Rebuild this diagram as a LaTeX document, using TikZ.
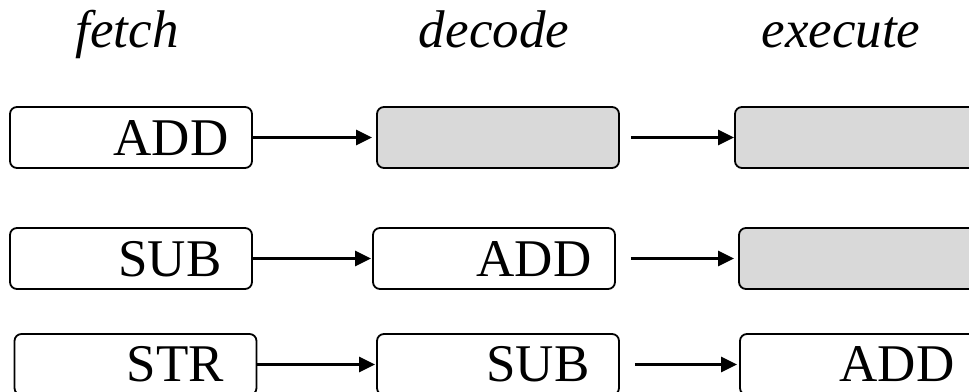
\documentclass[tikz,border=0pt]{standalone}
\usepackage{fontspec}
\setmainfont{Liberation Serif}
\usetikzlibrary{arrows.meta}
\definecolor{stagegray}{RGB}{217,217,217}
\tikzset{
  stagebox/.style={draw=black, line width=1.8pt, rounded corners=7pt,
    minimum width=242pt, minimum height=61pt, inner sep=0pt, fill=white},
  emptybox/.style={stagebox, fill=stagegray},
  instr/.style={anchor=base, inner sep=0pt, text depth=0pt,
    font=\fontsize{53}{60}\selectfont},
  stagetitle/.style={anchor=base, inner sep=0pt, font=\fontsize{53}{60}\selectfont\itshape},
  flow/.style={line width=2.6pt, -{Triangle[length=16pt,width=15pt]}},
}
\begin{document}
\begin{tikzpicture}[x=1pt, y=1pt]
  \useasboundingbox (0,0) rectangle (969,391);

  % stage headings
  \node[stagetitle] (tfetch) at (127,343) {fetch};
  \node[stagetitle] (tdecode) at (494,343) {decode};
  \node[stagetitle] (texecute) at (841,343) {execute};

  % first cycle
  \node[stagebox] (a1) at (131,253.5) {};
  \node[emptybox] (a2) at (498,253.5) {};
  \node[emptybox] (a3) at (856,253.5) {};
  \node[instr] (ta1) at ([xshift=40pt,yshift=-18pt]a1.center) {ADD};

  % second cycle
  \node[stagebox] (b1) at (131,132.5) {};
  \node[stagebox] (b2) at (494,132.5) {};
  \node[emptybox] (b3) at (860,132.5) {};
  \node[instr] (tb1) at ([xshift=39pt,yshift=-18pt]b1.center) {SUB};
  \node[instr] (tb2) at ([xshift=40pt,yshift=-18pt]b2.center) {ADD};

  % third cycle
  \node[stagebox] (c1) at (135.5,26.5) {};
  \node[stagebox] (c2) at (498,26.5) {};
  \node[stagebox] (c3) at (861,26.5) {};
  \node[instr] (tc1) at ([xshift=40pt,yshift=-17pt]c1.center) {STR};
  \node[instr] (tc2) at ([xshift=40pt,yshift=-17pt]c2.center) {SUB};
  \node[instr] (tc3) at ([xshift=36pt,yshift=-17pt]c3.center) {ADD};

  % pipeline transfers
  \draw[flow, shorten >=4pt] (a1.east) -- (a2.west);
  \draw[flow, shorten <=11pt] (a2.east) -- (a3.west);
  \draw[flow, shorten >=1pt] (b1.east) -- (b2.west);
  \draw[flow, shorten <=15pt, shorten >=4pt] (b2.east) -- (b3.west);
  \draw[flow, shorten >=1pt] (c1.east) -- (c2.west);
  \draw[flow, shorten <=15pt, shorten >=2pt] (c2.east) -- (c3.west);
\end{tikzpicture}
\end{document}
